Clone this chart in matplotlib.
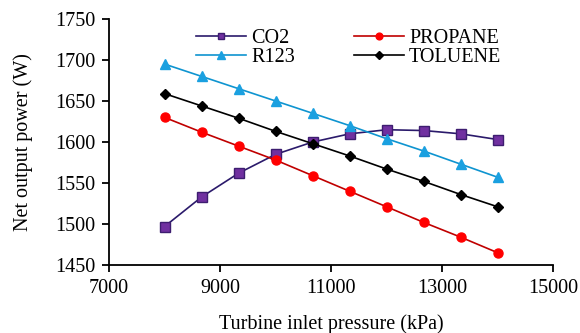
import matplotlib
matplotlib.use("Agg")
from matplotlib import pyplot as plt

plt.rcParams["font.family"] = "Liberation Serif"

pressure = [8000, 8667, 9333, 10000, 10667, 11333, 12000, 12667, 13333, 14000]
co2 = [1497, 1533, 1562, 1585, 1600, 1610, 1615, 1614, 1610, 1603]
propane = [1630, 1612, 1595, 1578, 1559, 1540, 1521, 1502, 1484, 1465]
r123 = [1695, 1680, 1665, 1650, 1635, 1620, 1604, 1589, 1573, 1557]
toluene = [1659, 1644, 1629, 1613, 1598, 1583, 1567, 1552, 1536, 1521]

fig = plt.figure(figsize=(5.8, 3.33), dpi=100)
ax = fig.add_axes([0.188, 0.204, 0.766, 0.739])

ax.plot(pressure, co2, color="#2b1a6b", marker="s", markersize=6.5,
        markerfacecolor="#7030a0", markeredgecolor="#3d1d70", lw=1.2, label="CO2")
ax.plot(pressure, r123, color="#0e94d0", marker="^", markersize=7,
        markerfacecolor="#1aa0e0", markeredgecolor="#1aa0e0", lw=1.2, label="R123")
ax.plot(pressure, propane, color="#c00000", marker="o", markersize=6.5,
        markerfacecolor="#ff0000", markeredgecolor="#ff0000", lw=1.2, label="PROPANE")
ax.plot(pressure, toluene, color="black", marker="D", markersize=5,
        lw=1.2, label="TOLUENE")

ax.set_xlim(7000, 15000)
ax.set_ylim(1450, 1750)
ax.set_xticks([7000, 9000, 11000, 13000, 15000])
ax.set_yticks(range(1450, 1751, 50))
ax.spines["top"].set_visible(False)
ax.spines["right"].set_visible(False)
ax.spines["left"].set_linewidth(1.3)
ax.spines["bottom"].set_linewidth(1.3)
ax.tick_params(direction="out", length=5, width=1.3, labelsize=14.5, pad=5)

ax.set_xlabel("Turbine inlet pressure (kPa)", fontsize=14.5, labelpad=12)
ax.set_ylabel("Net output power (W)", fontsize=14.5, labelpad=16)

ax.legend(ncol=2, loc="upper left", bbox_to_anchor=(0.155, 1.035), frameon=False,
          fontsize=14.5, handlelength=2.5, columnspacing=2.9, labelspacing=0.0,
          handletextpad=0.25, markerscale=0.75)

fig.savefig("out.png", dpi=100)
